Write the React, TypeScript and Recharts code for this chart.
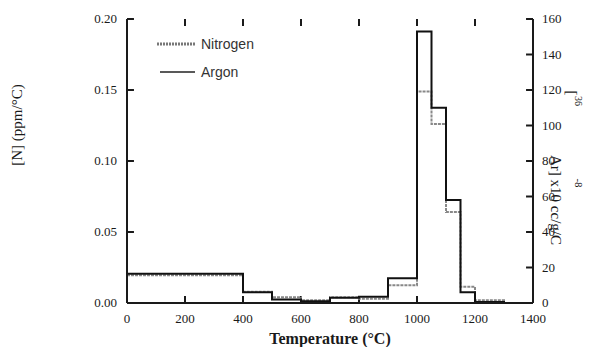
import React from 'react';
import { LineChart, Line, XAxis, YAxis, ReferenceLine } from 'recharts';

// bin edges in °C (step values hold until the next edge)
const temps = [0, 400, 500, 600, 700, 800, 900, 1000, 1050, 1100, 1150, 1200, 1300, 1400];
const nitrogen = [0.0195, 0.008, 0.004, 0.002, 0.004, 0.003, 0.0125, 0.149, 0.126, 0.064, 0.0115, 0.002, 0, 0];
const argon = [16.5, 6, 2, 1, 3, 3.5, 14, 153, 110, 58, 6, 0.5, 0, 0];

const xTicks = [0, 200, 400, 600, 800, 1000, 1200, 1400];
const nTicks = [0, 0.05, 0.1, 0.15, 0.2];
const arTicks = [0, 20, 40, 60, 80, 100, 120, 140, 160];

const data = temps.map((t, i) => ({ t, n: nitrogen[i], ar: argon[i] }));

const serif = '"Liberation Serif", "Times New Roman", serif';
const sans = '"Liberation Sans", Arial, sans-serif';
const GAP = 10;
const INK = '#1a1a1a';

// inward tick length, in data units of each axis (~7px)
const X_TICK_LEN = 24;
const N_TICK_LEN = 0.005;
const AR_TICK_LEN = 4;

const renderBottomTick = (p: any) => (
  <text key={`b${p.index}`} x={p.x} y={p.y + 10} textAnchor="middle" fontFamily={serif} fontSize={13} fill={INK}>
    {p.payload.value}
  </text>
);

const renderLeftTick = (p: any) => (
  <text key={`l${p.index}`} x={p.x} y={p.y + 4} textAnchor="end" fontFamily={serif} fontSize={13} fill={INK}>
    {Number(p.payload.value).toFixed(2)}
  </text>
);

const renderRightTick = (p: any) => (
  <text key={`r${p.index}`} x={p.x - 1} y={p.y + 4} textAnchor="start" fontFamily={serif} fontSize={13} fill={INK}>
    {p.payload.value}
  </text>
);

const LegendBox = () => (
  <g>
    <line x1={157} x2={196} y1={44} y2={44} stroke="#777" strokeWidth={3} strokeDasharray="2 1" />
    <text x={201} y={49} fontFamily={sans} fontSize={14} fill="#333">
      Nitrogen
    </text>
    <line x1={160} x2={195} y1={72} y2={72} stroke="#222" strokeWidth={1.5} />
    <text x={201} y={77} fontFamily={sans} fontSize={14} fill="#333">
      Argon
    </text>
  </g>
);

const LeftLabel = () => (
  <text x={22} y={125} transform="rotate(-90 22 125)" textAnchor="middle" fontFamily={serif} fontSize={15} fill={INK}>
    [N] (ppm/°C)
  </text>
);

const RightLabel = () => (
  <g fontFamily={serif} fill={INK}>
    <text x={551} y={200} transform="rotate(90 551 200)" textAnchor="middle" fontSize={15}>
      Ar] x10 cc/g/C
    </text>
    <text x={567} y={93} transform="rotate(90 567 93)" textAnchor="middle" fontSize={15}>
      [
    </text>
    <text x={575} y={101} transform="rotate(90 575 101)" textAnchor="middle" fontSize={10}>
      36
    </text>
    <text x={575} y={183} transform="rotate(90 575 183)" textAnchor="middle" fontSize={11}>
      -8
    </text>
  </g>
);

const axisLine = { stroke: INK, strokeWidth: 2 };
const tickMark = { stroke: INK, strokeWidth: 2, isFront: true };

export default function App() {
  return (
    <div style={{ position: 'fixed', left: 0, top: 0, width: 589, height: 347, background: '#fff' }}>
      <LineChart width={589} height={347} data={data} margin={{ top: 19, right: 0, left: 0, bottom: 0 }}>
        <XAxis
          dataKey="t"
          type="number"
          domain={[0, 1400]}
          ticks={xTicks}
          height={44}
          tickSize={0}
          tickMargin={GAP}
          tickLine={false}
          tick={renderBottomTick}
          axisLine={axisLine}
          label={{
            value: 'Temperature (°C)',
            position: 'insideBottom',
            offset: 3,
            style: { fontFamily: serif, fontSize: 16, fontWeight: 'bold', fill: INK },
          }}
        />
        <XAxis
          xAxisId="top"
          dataKey="t"
          type="number"
          orientation="top"
          domain={[0, 1400]}
          ticks={xTicks}
          height={0}
          tick={false}
          tickLine={false}
          axisLine={axisLine}
        />
        <YAxis
          yAxisId="n"
          domain={[0, 0.2]}
          ticks={nTicks}
          width={127}
          tickSize={0}
          tickMargin={GAP}
          tickLine={false}
          tick={renderLeftTick}
          axisLine={axisLine}
        />
        <YAxis
          yAxisId="ar"
          orientation="right"
          domain={[0, 160]}
          ticks={arTicks}
          width={56}
          tickSize={0}
          tickMargin={GAP}
          tickLine={false}
          tick={renderRightTick}
          axisLine={axisLine}
        />
        {xTicks.map((v) => (
          <ReferenceLine
            key={`xb${v}`}
            yAxisId="n"
            segment={[{ x: v, y: 0 }, { x: v, y: N_TICK_LEN }]}
            {...tickMark}
          />
        ))}
        {xTicks.map((v) => (
          <ReferenceLine
            key={`xt${v}`}
            yAxisId="n"
            segment={[{ x: v, y: 0.2 }, { x: v, y: 0.2 - N_TICK_LEN }]}
            {...tickMark}
          />
        ))}
        {nTicks.map((v) => (
          <ReferenceLine
            key={`yl${v}`}
            yAxisId="n"
            segment={[{ x: 0, y: v }, { x: X_TICK_LEN, y: v }]}
            {...tickMark}
          />
        ))}
        {arTicks.map((v) => (
          <ReferenceLine
            key={`yr${v}`}
            yAxisId="ar"
            segment={[{ x: 1400, y: v }, { x: 1400 - X_TICK_LEN, y: v }]}
            {...tickMark}
          />
        ))}
        <Line
          yAxisId="n"
          dataKey="n"
          type="stepAfter"
          stroke="#888"
          strokeWidth={2}
          strokeDasharray="3 1"
          dot={false}
          isAnimationActive={false}
        />
        <Line
          yAxisId="ar"
          dataKey="ar"
          type="stepAfter"
          stroke="#111"
          strokeWidth={2}
          dot={false}
          isAnimationActive={false}
        />
        <LegendBox />
        <LeftLabel />
        <RightLabel />
      </LineChart>
    </div>
  );
}
